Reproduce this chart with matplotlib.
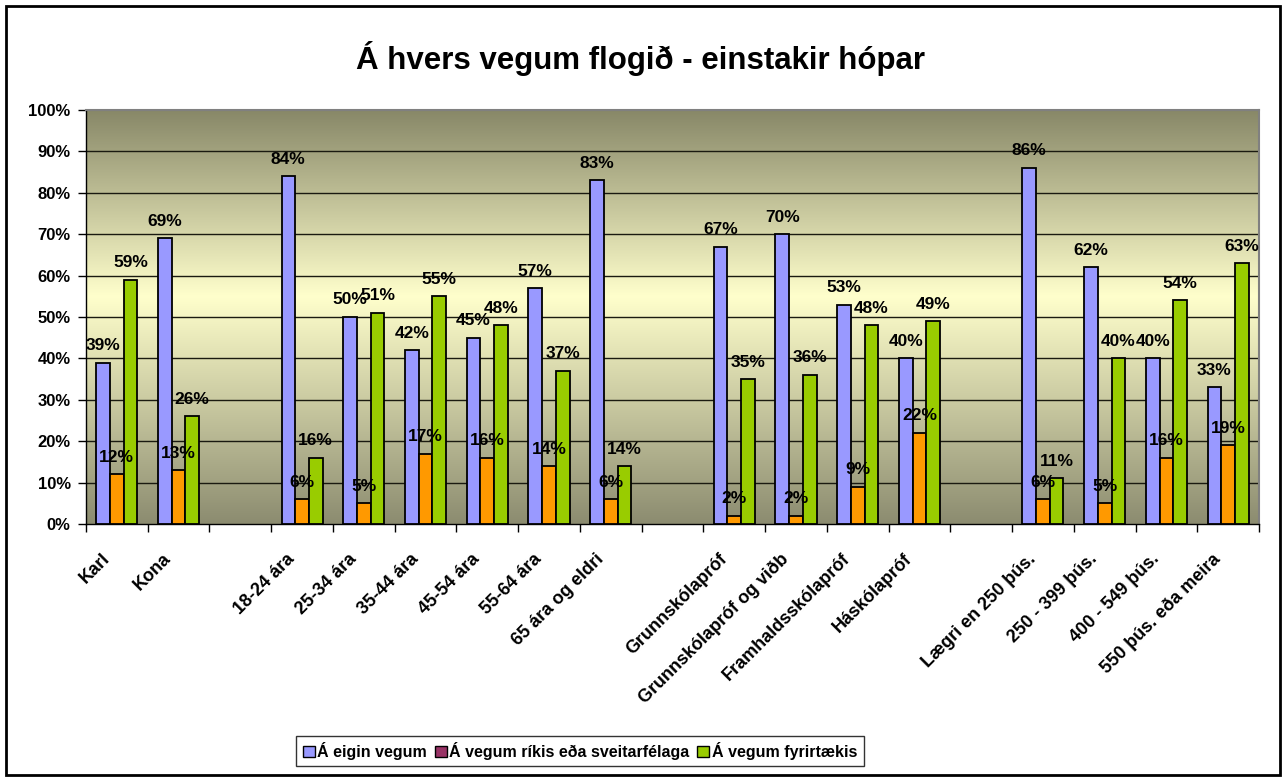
import numpy as np
import matplotlib
matplotlib.use("Agg")
import matplotlib.pyplot as plt
from matplotlib.patches import Patch, Rectangle
from matplotlib.colors import LinearSegmentedColormap
import matplotlib.transforms as mtransforms

plt.rcParams['font.family'] = ['Liberation Sans', 'DejaVu Sans']
plt.rcParams['font.weight'] = 'bold'

title = "Á hvers vegum flogið - einstakir hópar"
categories = ["Karl", "Kona", "", "18-24 ára", "25-34 ára", "35-44 ára", "45-54 ára",
              "55-64 ára", "65 ára og eldri", "", "Grunnskólapróf",
              "Grunnskólapróf og viðb", "Framhaldsskólapróf", "Háskólapróf", "",
              "Lægri en 250 þús.", "250 - 399 þús.", "400 - 549 þús.",
              "550 þús. eða meira"]
series_names = ["Á eigin vegum", "Á vegum ríkis eða sveitarfélaga", "Á vegum fyrirtækis"]
nan = np.nan
eigin = [39, 69, nan, 84, 50, 42, 45, 57, 83, nan, 67, 70, 53, 40, nan, 86, 62, 40, 33]
rikis = [12, 13, nan, 6, 5, 17, 16, 14, 6, nan, 2, 2, 9, 22, nan, 6, 5, 16, 19]
fyrirtaekis = [59, 26, nan, 16, 51, 55, 48, 37, 14, nan, 35, 36, 48, 49, nan, 11, 40, 54, 63]
yticks = [0, 10, 20, 30, 40, 50, 60, 70, 80, 90, 100]

bar_colors = ["#9999FF", "#FF9900", "#99CC00"]
legend_colors = ["#9999FF", "#993366", "#99CC00"]

fig = plt.figure(figsize=(12.85, 7.79), dpi=100)
fig.patch.set_facecolor("white")
ax = fig.add_axes([86/1285, 1-524/779, (1259-86)/1285, (524-110)/779])

n = len(categories)
x = np.arange(n)
ax.set_xlim(-0.5, n-0.5)
ax.set_ylim(0, 100)

# gradient background
cmap = LinearSegmentedColormap.from_list(
    "bg", [(0.0, "#8C8C70"), (0.55, "#FFFFCC"), (1.0, "#888868")])
grad = np.linspace(0, 1, 256).reshape(-1, 1)
ax.imshow(grad, extent=[-0.5, n-0.5, 0, 100], origin="lower", aspect="auto",
          cmap=cmap, zorder=0, interpolation="bilinear")

for yv in yticks[1:-1]:
    ax.axhline(yv, color="#1a1a10", lw=1.0, zorder=1)

w = 0.222
data = [eigin, rikis, fyrirtaekis]
for i, (vals, col) in enumerate(zip(data, bar_colors)):
    vals = np.array(vals, dtype=float)
    pos = x + (i-1)*w
    ax.bar(pos, vals, width=w, color=col, edgecolor="black", linewidth=1.3, zorder=3)
    for p, v in zip(pos, vals):
        if not np.isnan(v):
            ax.annotate(f"{int(v)}%", (p, v), xytext=(0, 9), textcoords="offset points",
                        ha="center", va="baseline", fontsize=12.5, fontweight="bold", zorder=5)

# axes styling
for side in ["top", "right"]:
    ax.spines[side].set_color("#808080")
    ax.spines[side].set_linewidth(1.5)
for side in ["left", "bottom"]:
    ax.spines[side].set_color("black")
    ax.spines[side].set_linewidth(1.0)

ax.set_yticks(yticks)
ax.set_yticklabels([f"{v}%" for v in yticks], fontsize=12, fontweight="bold")
ax.tick_params(axis="y", direction="out", length=6, width=1, pad=5)

ax.set_xticks(x)
ax.set_xticklabels(categories, rotation=45, ha="right", va="top", rotation_mode="anchor",
                   fontsize=13, fontweight="bold")
ax.tick_params(axis="x", which="major", length=0, pad=19)
ax.set_xticks(np.arange(n+1)-0.5, minor=True)
ax.tick_params(axis="x", which="minor", direction="out", length=6, width=1)
offset = mtransforms.ScaledTranslation(-16/100, 0, fig.dpi_scale_trans)
for lbl in ax.get_xticklabels():
    lbl.set_transform(lbl.get_transform() + offset)

fig.text(641/1285, 1-59/779, title, ha="center", va="center", fontsize=22.5, fontweight="bold")

handles = [Patch(facecolor=c, edgecolor="black", linewidth=1) for c in legend_colors]
leg = fig.legend(handles, series_names, loc="center", bbox_to_anchor=(580/1285, 1-751/779),
                 ncol=3, frameon=True, fancybox=False,
                 handlelength=0.75, handleheight=0.75, handletextpad=0.15,
                 columnspacing=0.5, borderpad=0.4, borderaxespad=0,
                 prop={"weight": "bold", "size": 11.5})
leg.get_frame().set_edgecolor("black")
leg.get_frame().set_linewidth(1.0)

fig.patches.append(Rectangle((6/1285, 4/779), 1274/1285, 769/779, transform=fig.transFigure,
                             fill=False, edgecolor="black", linewidth=2))

fig.savefig("out.png", dpi=100)
